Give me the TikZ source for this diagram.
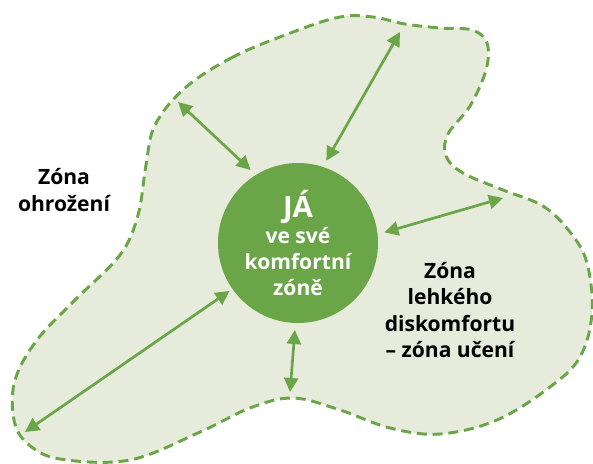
\documentclass[tikz,border=0pt]{standalone}
\usepackage{fontspec}
\setmainfont{Open Sans}
\usepackage{tikz}
\usetikzlibrary{arrows.meta,positioning}

\begin{document}
\begin{tikzpicture}[x=0.03cm,y=-0.03cm,
  zone/.style={draw=cborder,fill=cfzone,line width=2.5pt,dash pattern=on 8.5pt off 5pt},
  me/.style={circle,fill=cme,text=white,minimum size=4.8cm,inner sep=0pt,outer sep=6pt,
    align=center,font=\bfseries\fontsize{18}{22}\selectfont},
  zonelabel/.style={align=center,text=black,font=\bfseries\fontsize{18}{22.5}\selectfont},
  twoway/.style={{Triangle[length=12pt,width=12pt]}-{Triangle[length=12pt,width=12pt]},draw=carrow,line width=2.3pt}]
%
\useasboundingbox (0,0) rectangle (593,463);
%
\definecolor{cborder}{RGB}{106,166,72}
\definecolor{cfzone}{RGB}{230,235,219}
\definecolor{cme}{RGB}{106,166,72}
\definecolor{carrow}{RGB}{106,166,72}
%
\draw[zone] plot[smooth cycle,tension=0.6] coordinates {
  (293,32) (233,57) (185,88) (155,125) (146,165) (138,215) (120,255) (75,300)
  (37,340) (15,380) (14,420) (28,444) (60,459) (130,460) (200,432) (250,408)
  (293,398) (340,410) (390,428) (440,434) (497,420) (550,387) (580,357)
  (592,313) (587,263) (570,232) (543,206) (503,190) (463,173) (446,156)
  (448,134) (470,106) (486,70) (487,43) (472,30) (440,28) (405,24) (373,17)
  (340,17)};
%
\node[me] (ja) at (298,243) {{\fontsize{25}{22}\selectfont JÁ}\\ve své\\komfortní\\zóně};
%
\node[zonelabel] (threat) at (64,190) {Zóna\\ohrožení};
\node[zonelabel] (learn) at (450,310) {Zóna\\lehkého\\diskomfortu\\– zóna učení};
%
\coordinate (upleft) at (178,102);
\coordinate (top) at (400,32);
\coordinate (right) at (503,198);
\coordinate (downleft) at (25,432);
\coordinate (bottom) at (290,392);
%
\draw[twoway] (upleft) -- (ja.123);
\draw[twoway] (top) -- (ja.71);
\draw[twoway] (right) -- (ja.7);
\draw[twoway,shorten >=-3pt] (downleft) -- (ja.215);
\draw[twoway] (bottom) -- (ja.268);
%
\end{tikzpicture}
\end{document}
